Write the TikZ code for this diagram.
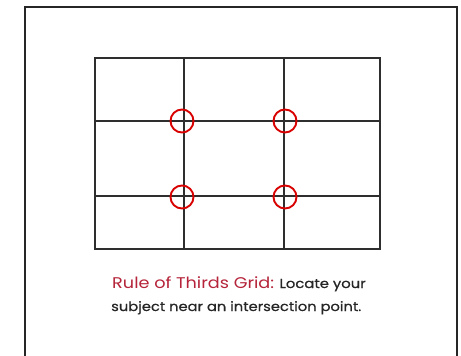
\documentclass[tikz,border=0pt]{standalone}
\usepackage{fontspec}
\setmainfont{Poppins}
\newfontfamily\capfont[FakeBold=0.6]{Poppins}
\definecolor{ruleRed}{HTML}{B5243A}
\definecolor{gridGray}{HTML}{2E2E2E}
\tikzset{
  gridline/.style={draw=gridGray, line width=1.4pt},
  mark circle/.style={circle, draw=red!85!black, line width=1.9pt, minimum size=23pt, inner sep=0pt},
  caption/.style={inner sep=0pt, anchor=base west, font=\capfont\fontsize{13}{15}\selectfont, text=black!85}
}
\begin{document}
\begin{tikzpicture}[x=1pt,y=-1pt]
\useasboundingbox (0,0) rectangle (461,356);
\fill[white] (0,0) rectangle (461,356);
% outer frame
\draw[line width=2.6pt, black!85] (25,370) -- (25,7) -- (457,7) -- (457,370);
% grid coordinates
\coordinate (g00) at (95,58);
\coordinate (g11) at (380,249);
\draw[gridline] (g00) rectangle (g11);
\draw[gridline] (184,58) -- (184,249);
\draw[gridline] (284,58) -- (284,249);
\draw[gridline] (95,121) -- (380,121);
\draw[gridline] (95,196) -- (380,196);
% circles at intersections
\node[mark circle] (c1) at (182,121) {};
\node[mark circle] (c2) at (285,121) {};
\node[mark circle] (c3) at (182,197) {};
\node[mark circle] (c4) at (285,197) {};
% caption
\node[caption] (t1) at (112,288) {\scalebox{1.14}[1]{\textcolor{ruleRed}{\fontspec{Poppins}\fontsize{15.5}{17}\selectfont Rule of Thirds Grid:} Locate your}};
\node[caption] (t2) at (111,311) {\scalebox{1.13}[1]{subject near an intersection point.}};
\end{tikzpicture}
\end{document}
